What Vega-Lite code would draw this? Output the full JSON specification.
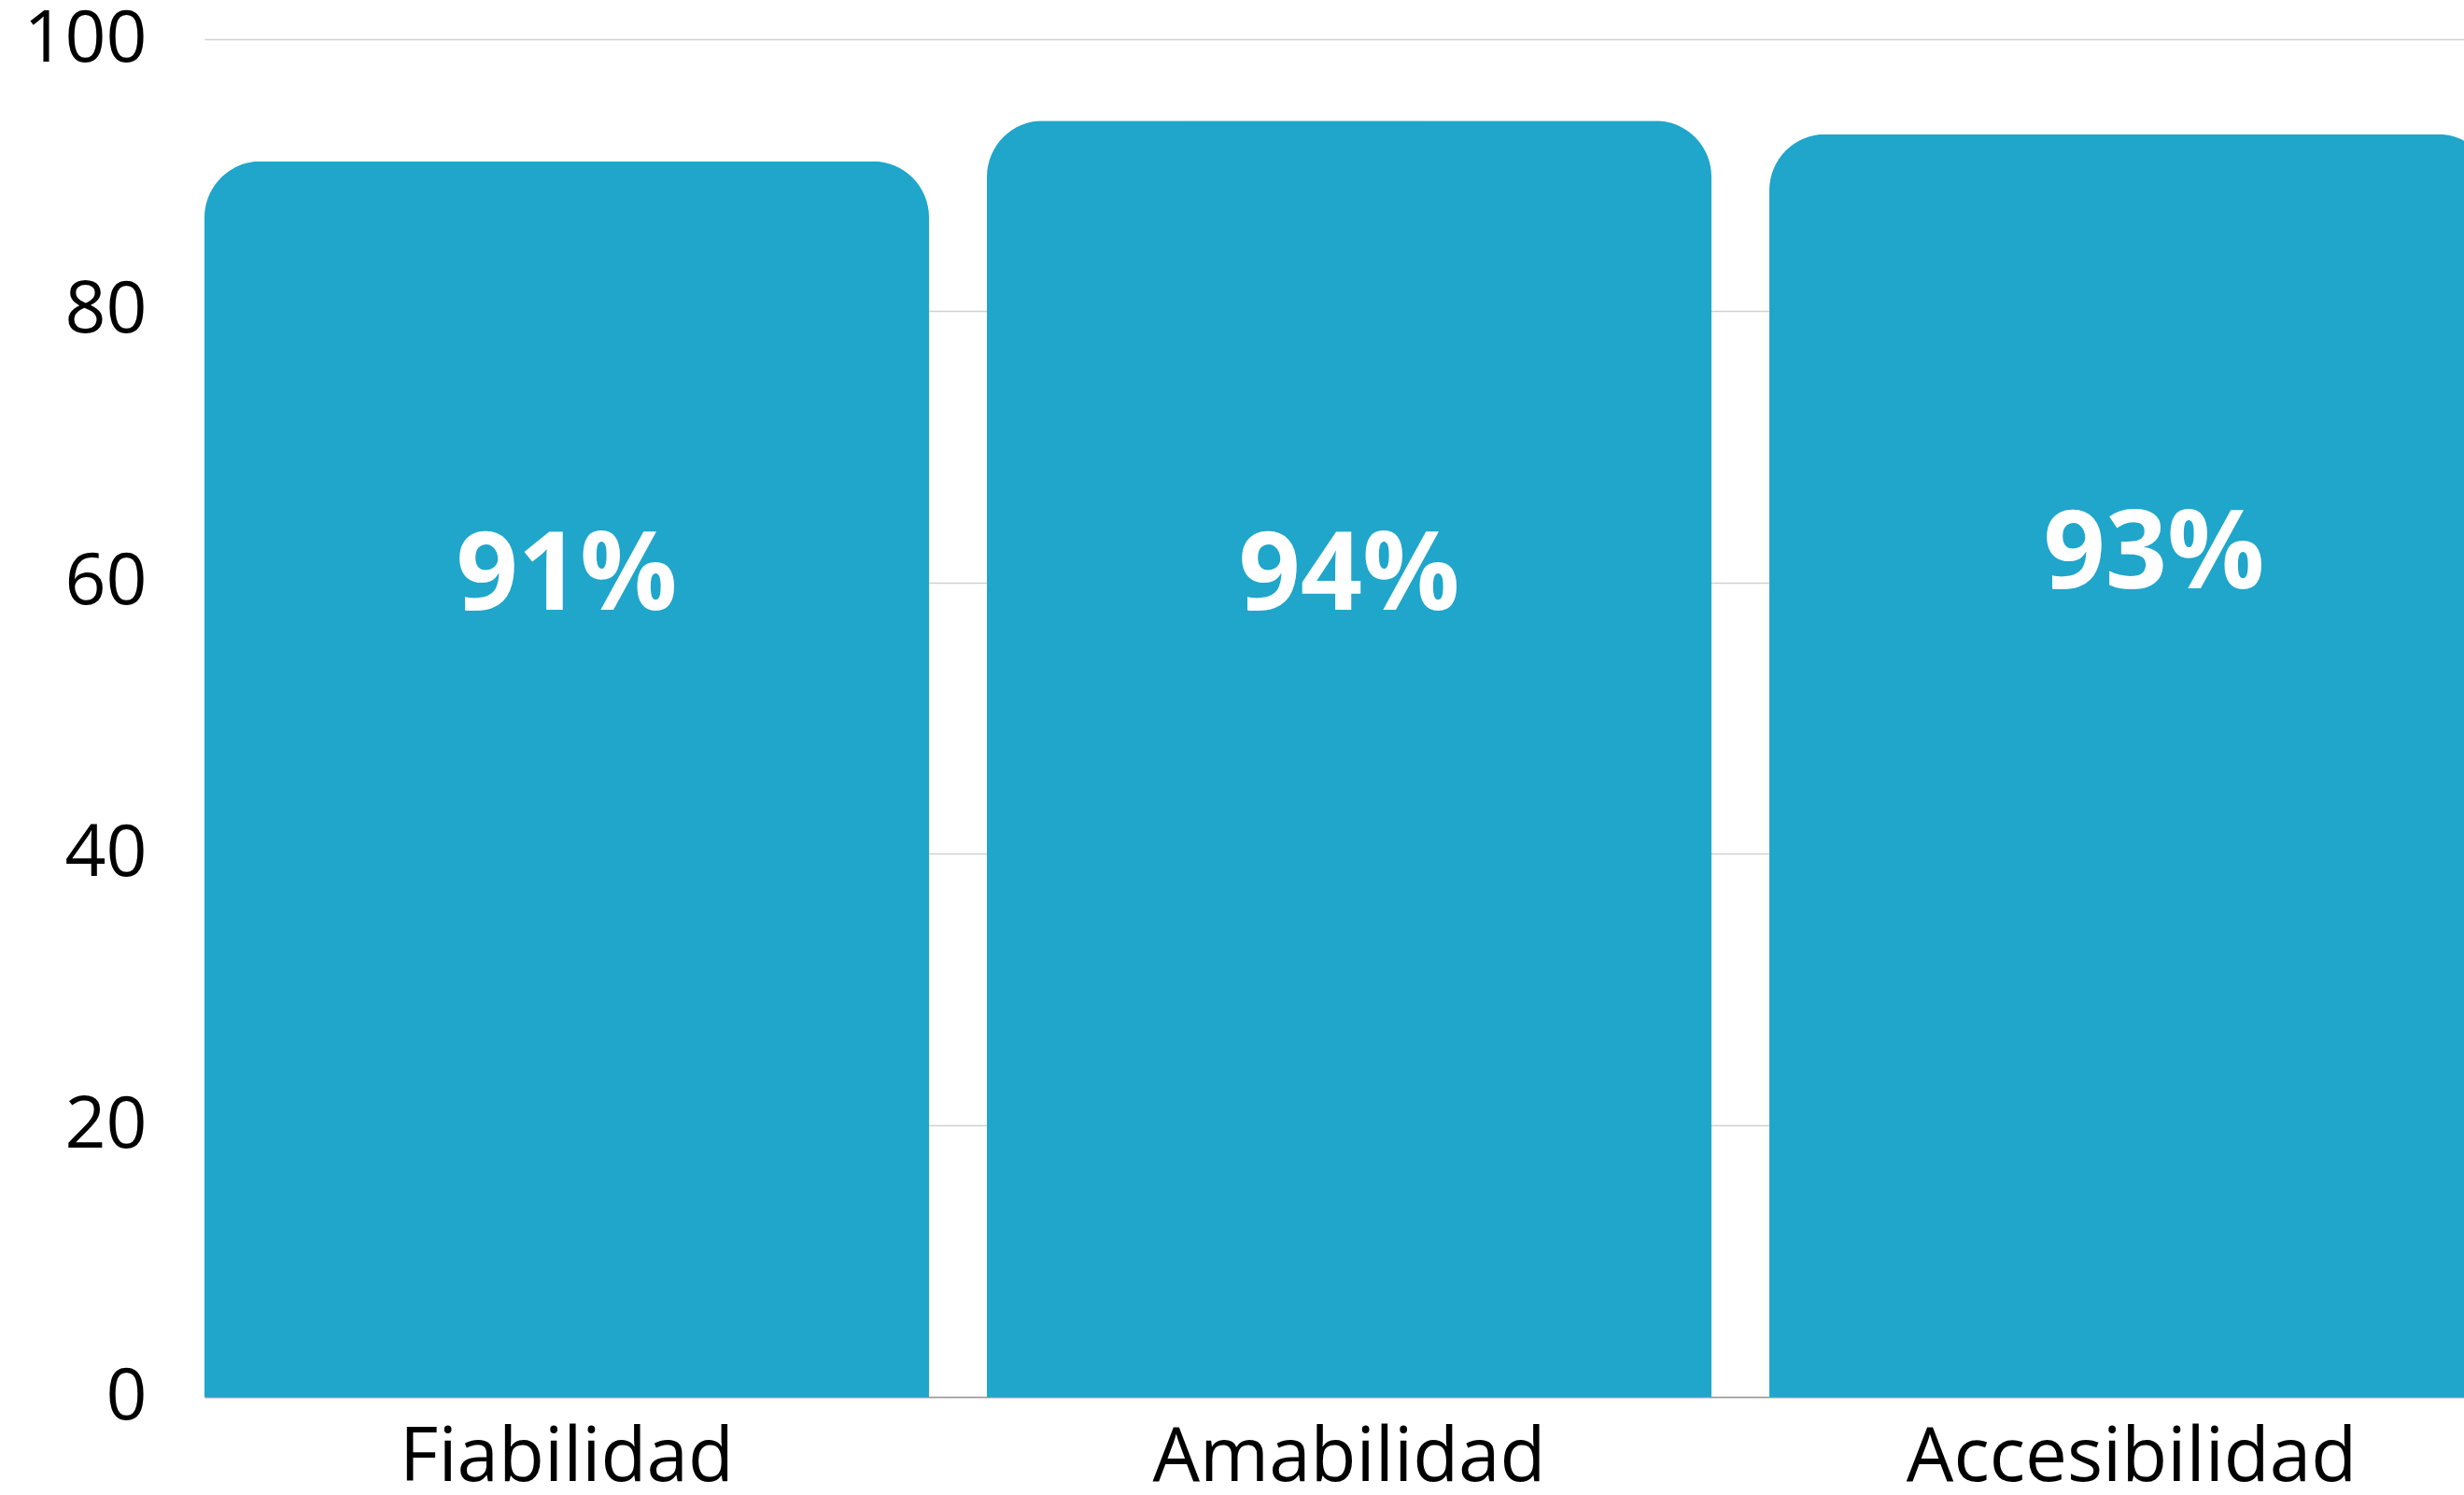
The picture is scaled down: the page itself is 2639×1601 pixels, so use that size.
{
  "$schema": "https://vega.github.io/schema/vega-lite/v6.json",
  "autosize": "none",
  "width": 2452,
  "height": 1454,
  "padding": {"left": 219, "top": 42, "right": 0, "bottom": 105},
  "background": "white",
  "config": {"view": {"stroke": null}},
  "data": {"values": [
    {"category": "Fiabilidad", "value": 91, "label": "91%"},
    {"category": "Amabilidad", "value": 94, "label": "94%"},
    {"category": "Accesibilidad", "value": 93, "label": "93%"}
  ]},
  "encoding": {
    "x": {"field": "category", "type": "nominal", "sort": null,
      "scale": {"paddingInner": 0.074, "paddingOuter": 0},
      "axis": {"title": null, "labelAngle": 0, "labelFont": "Open Sans", "labelFontSize": 80, "labelColor": "#000000",
        "labelLimit": 0, "labelPadding": 26, "ticks": false, "domain": true, "domainColor": "#999999", "domainWidth": 1.5, "labelBaseline": "top"}}
  },
  "layer": [
    {
      "mark": {"type": "bar", "color": "#1FA6CA", "cornerRadiusTopLeft": 60, "cornerRadiusTopRight": 60},
      "encoding": {
        "y": {"field": "value", "type": "quantitative",
          "scale": {"domain": [0, 100], "nice": false},
          "axis": {"title": null, "values": [0, 20, 40, 60, 80, 100], "labelFont": "Open Sans", "labelFontSize": 77,
            "labelColor": "#000000", "labelPadding": 62, "ticks": false, "domain": false,
            "grid": true, "gridColor": "#d0d0d0", "gridWidth": 1.5}}
      }
    },
    {
      "transform": [{"filter": "datum.category !== 'Accesibilidad'"}],
      "mark": {"type": "text", "font": "Open Sans", "fontWeight": "bold", "fontSize": 116, "color": "white", "baseline": "middle", "align": "center"},
      "encoding": {
        "y": {"datum": 60.4, "type": "quantitative"},
        "text": {"field": "label"}
      }
    },
    {
      "transform": [{"filter": "datum.category === 'Accesibilidad'"}],
      "mark": {"type": "text", "font": "Open Sans", "fontWeight": "bold", "fontSize": 116, "color": "white", "baseline": "middle", "align": "center", "dx": 24},
      "encoding": {
        "y": {"datum": 62.0, "type": "quantitative"},
        "text": {"field": "label"}
      }
    }
  ]
}
